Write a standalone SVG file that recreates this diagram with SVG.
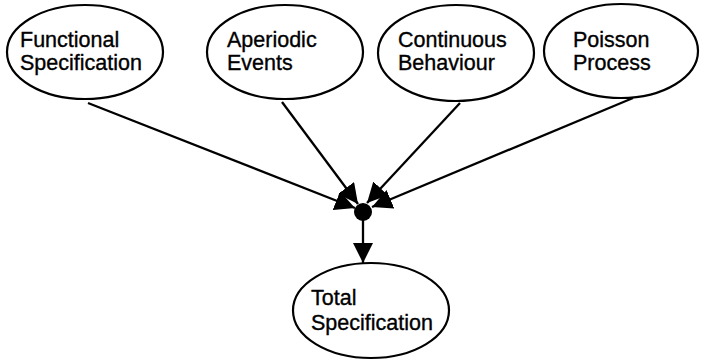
<svg xmlns="http://www.w3.org/2000/svg" width="701" height="362" viewBox="0 0 701 362">
  <style>
    .node ellipse { fill: #ffffff; stroke: #000000; stroke-width: 2.2; }
    .node text { font-family: "Liberation Sans", Arial, sans-serif; font-size: 21.5px; fill: #000000; stroke: #000000; stroke-width: 0.35; }
    .edge { stroke: #000000; stroke-width: 2.3; fill: none; marker-end: url(#arrow); }
  </style>
  <defs>
    <marker id="arrow" markerUnits="userSpaceOnUse" markerWidth="20" markerHeight="20" refX="20" refY="10" orient="auto">
      <path d="M0,0 L20,10 L0,20 z" fill="#000000"/>
    </marker>
  </defs>

  <rect width="701" height="362" fill="#ffffff"/>

  <g id="connectors">
    <line class="edge" x1="88" y1="103" x2="355" y2="208"/>
    <line class="edge" x1="282" y1="102" x2="358" y2="204"/>
    <line class="edge" x1="460" y1="103" x2="367" y2="203"/>
    <line class="edge" x1="633" y1="98" x2="372" y2="207"/>
    <line class="edge" x1="363" y1="214" x2="363" y2="263"/>
  </g>

  <g id="junction">
    <circle cx="363" cy="212" r="9" fill="#000000"/>
  </g>

  <g id="functional-specification" class="node">
    <ellipse cx="85" cy="52" rx="78" ry="47"/>
    <text x="20" y="47">Functional</text>
    <text x="20" y="70">Specification</text>
  </g>

  <g id="aperiodic-events" class="node">
    <ellipse cx="285" cy="52" rx="78" ry="47"/>
    <text x="227" y="47">Aperiodic</text>
    <text x="227" y="70">Events</text>
  </g>

  <g id="continuous-behaviour" class="node">
    <ellipse cx="456" cy="53" rx="78" ry="48"/>
    <text x="398" y="47">Continuous</text>
    <text x="398" y="70">Behaviour</text>
  </g>

  <g id="poisson-process" class="node">
    <ellipse cx="621" cy="51" rx="77" ry="47"/>
    <text x="573" y="47">Poisson</text>
    <text x="573" y="70">Process</text>
  </g>

  <g id="total-specification" class="node">
    <ellipse cx="371" cy="310.5" rx="78" ry="47.5"/>
    <text x="311" y="305">Total</text>
    <text x="311" y="330">Specification</text>
  </g>
</svg>
